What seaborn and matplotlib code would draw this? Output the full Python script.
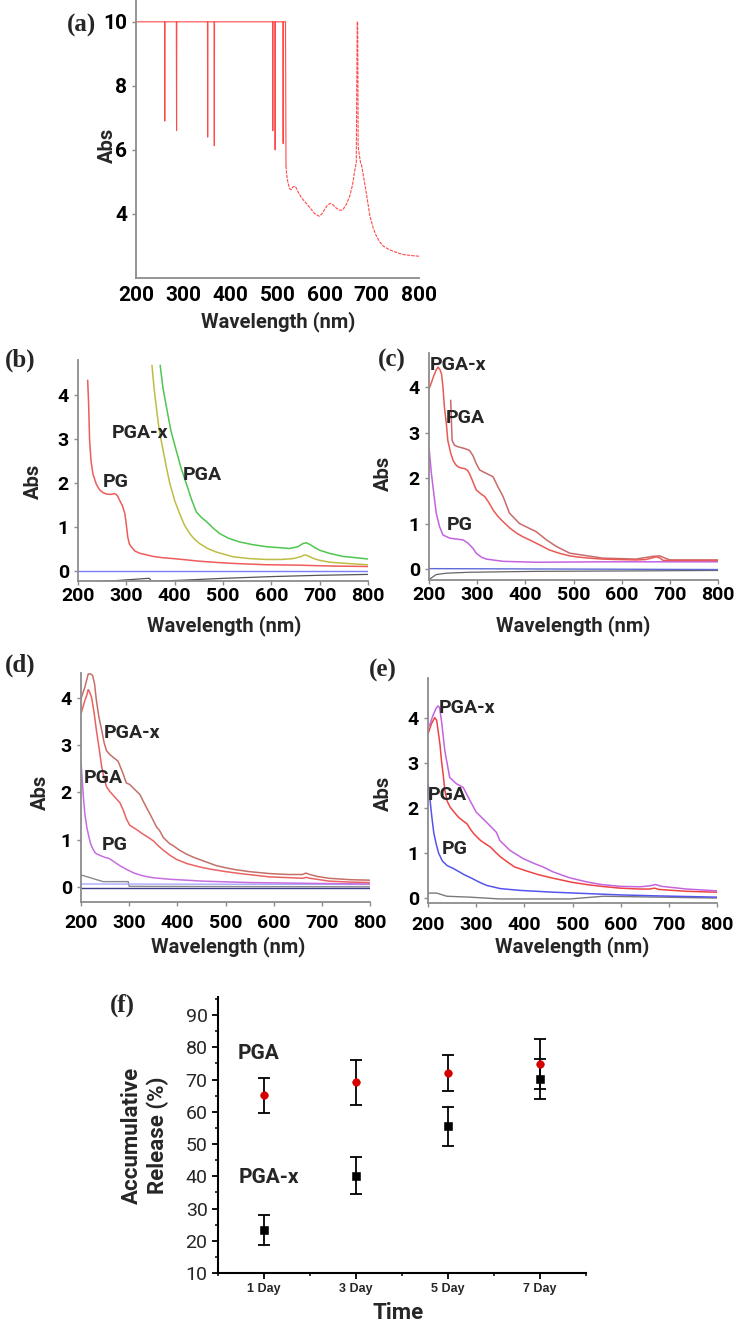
import matplotlib
matplotlib.use("Agg")
from matplotlib import pyplot as plt
from matplotlib.ticker import MultipleLocator
import seaborn as sns

sns.set_theme(style="ticks")
plt.rcParams["font.family"] = ["Roboto", "DejaVu Sans"]

W, H = 735, 1323

# ---- (a) spectrum
a_wl = [200, 260.5, 261, 261.5, 285.5, 286, 286.5, 351.5, 352, 352.5, 365.5, 366, 366.5,
        489.5, 490, 490.5, 494.5, 495, 495.5, 511.5, 512, 512.5, 517, 518]
a_abs = [10, 10, 6.9, 10, 10, 6.6, 10, 10, 6.4, 10, 10, 6.13, 10,
         10, 6.6, 10, 10, 6.0, 10, 10, 6.2, 10, 10, 5.5]
a_tail_wl = [518, 519, 521, 525, 529, 533, 538, 545, 551, 560, 569, 578, 588, 594, 600, 606, 612,
             618, 624, 631, 638, 646, 653, 659, 664, 667, 669, 670, 671, 673, 676, 678, 682, 686,
             691, 696, 703, 710, 717, 724, 735, 745, 756, 767, 785, 800]
a_tail_abs = [5.5, 5.3, 5.07, 4.8, 4.76, 4.85, 4.86, 4.65, 4.5, 4.35, 4.19, 4.02, 3.93, 4.0, 4.14,
              4.28, 4.33, 4.28, 4.19, 4.12, 4.12, 4.3, 4.55, 4.9, 5.38, 5.6, 10, 10, 6.1, 5.9, 5.6,
              5.55, 5.2, 4.86, 4.4, 3.93, 3.55, 3.3, 3.12, 3.0, 2.9, 2.84, 2.78, 2.73, 2.7, 2.68]

# ---- (b)
b_pg_wl = [220, 222, 224, 227, 231, 238, 245, 252, 259, 267, 276, 281, 286, 292, 297, 300, 303, 306,
           310, 318, 328, 340, 355, 375, 397, 425, 452, 490, 521, 555, 590, 625, 659, 690, 728, 765, 800]
b_pg_abs = [4.34, 3.8, 2.97, 2.5, 2.2, 1.97, 1.84, 1.78, 1.75, 1.74, 1.76, 1.72, 1.61, 1.48, 1.3, 1.05,
            0.77, 0.62, 0.55, 0.45, 0.4, 0.37, 0.33, 0.3, 0.28, 0.25, 0.22, 0.19, 0.17, 0.155, 0.14,
            0.135, 0.13, 0.12, 0.11, 0.105, 0.1]
b_pgax_wl = [353, 357, 362, 368, 376, 383, 390, 400, 410, 420, 431, 441, 452, 468, 486, 505, 521, 555,
             590, 620, 645, 660, 668, 672, 678, 688, 700, 720, 741, 770, 800]
b_pgax_abs = [4.68, 4.2, 3.73, 3.2, 2.75, 2.35, 1.99, 1.6, 1.31, 1.05, 0.85, 0.72, 0.62, 0.51, 0.43,
              0.37, 0.32, 0.28, 0.26, 0.26, 0.28, 0.32, 0.36, 0.36, 0.33, 0.28, 0.24, 0.2, 0.18, 0.16, 0.14]
b_pga_wl = [370, 376, 383, 392, 403, 413, 424, 435, 445, 455, 466, 480, 493, 512, 534, 560, 590, 615,
            638, 655, 665, 672, 680, 690, 700, 720, 748, 775, 800]
b_pga_abs = [4.68, 4.15, 3.73, 3.2, 2.75, 2.35, 1.99, 1.62, 1.34, 1.22, 1.12, 0.97, 0.85, 0.74, 0.66,
             0.6, 0.55, 0.53, 0.51, 0.55, 0.62, 0.64, 0.6, 0.53, 0.47, 0.4, 0.33, 0.3, 0.27]
b_blue_wl = [200, 800]
b_blue_abs = [0.0, 0.0]
b_gray_wl = [225, 280, 345, 348, 352, 420, 500, 600, 700, 800]
b_gray_abs = [-0.25, -0.22, -0.17, -0.17, -0.24, -0.21, -0.17, -0.13, -0.1, -0.08]

# ---- (c)
c_pgax_wl = [200, 205, 210, 215, 219, 223, 226, 229, 232, 236, 239, 245, 250, 255, 260, 267, 274, 280,
             284, 290, 298, 307, 316, 325, 333, 343, 354, 368, 382, 395, 409, 430, 450, 470, 492, 513,
             534, 560, 590, 630, 650, 665, 672, 680, 686, 700, 750, 800]
c_pgax_abs = [3.96, 4.1, 4.25, 4.38, 4.44, 4.38, 4.29, 4.0, 3.56, 3.2, 2.83, 2.55, 2.39, 2.3, 2.25,
              2.22, 2.21, 2.17, 2.1, 1.95, 1.74, 1.66, 1.59, 1.45, 1.3, 1.16, 1.04, 0.9, 0.79, 0.71,
              0.64, 0.53, 0.42, 0.35, 0.29, 0.26, 0.24, 0.22, 0.21, 0.2, 0.21, 0.25, 0.27, 0.24, 0.19,
              0.19, 0.19, 0.19]
c_pga_wl = [245, 248, 253, 260, 274, 284, 291, 298, 305, 312, 333, 343, 354, 367, 388, 423, 444, 464,
            492, 561, 630, 665, 679, 700, 800]
c_pga_abs = [3.71, 2.83, 2.72, 2.69, 2.65, 2.61, 2.5, 2.32, 2.18, 2.14, 2.03, 1.81, 1.59, 1.23, 1.0,
             0.82, 0.64, 0.5, 0.35, 0.24, 0.22, 0.28, 0.29, 0.2, 0.2]
c_pg_wl = [200, 205, 210, 215, 222, 229, 243, 257, 271, 281, 291, 298, 309, 319, 354, 423, 561, 800]
c_pg_abs = [2.67, 2.1, 1.66, 1.23, 0.93, 0.75, 0.68, 0.66, 0.64, 0.57, 0.46, 0.35, 0.26, 0.22, 0.17,
            0.15, 0.16, 0.16]
c_blue_wl = [200, 800]
c_blue_abs = [0.01, -0.01]
c_gray_wl = [200, 215, 236, 284, 423, 630, 800]
c_gray_abs = [-0.23, -0.12, -0.09, -0.07, -0.05, -0.04, -0.03]

# ---- (d)
d_pgax_wl = [200, 204, 208, 212, 215, 220, 224, 228, 232, 237, 243, 248, 253, 260, 267, 277, 288, 294,
             301, 310, 322, 336, 343, 357, 363, 371, 384, 391, 405, 419, 432, 453, 480, 501, 522, 550,
             591, 630, 660, 667, 675, 690, 715, 760, 800]
d_pgax_abs = [3.98, 4.1, 4.22, 4.38, 4.5, 4.5, 4.47, 4.3, 3.94, 3.6, 3.31, 3.05, 2.88, 2.8, 2.74, 2.66,
              2.38, 2.2, 2.17, 2.08, 1.96, 1.68, 1.55, 1.27, 1.2, 1.05, 0.92, 0.88, 0.78, 0.7, 0.64,
              0.56, 0.46, 0.41, 0.37, 0.33, 0.29, 0.27, 0.27, 0.3, 0.27, 0.23, 0.19, 0.16, 0.15]
d_pga_wl = [200, 204, 208, 212, 215, 218, 222, 227, 232, 238, 243, 248, 253, 260, 267, 274, 281, 288,
            294, 301, 315, 329, 340, 350, 360, 370, 384, 398, 420, 446, 470, 501, 530, 591, 640, 660,
            668, 676, 715, 760, 800]
d_pga_abs = [3.66, 3.8, 3.94, 4.05, 4.17, 4.12, 4.0, 3.7, 3.31, 2.9, 2.54, 2.3, 2.12, 2.02, 1.94, 1.86,
             1.78, 1.62, 1.45, 1.31, 1.22, 1.12, 1.05, 0.98, 0.88, 0.79, 0.68, 0.59, 0.5, 0.43, 0.38,
             0.33, 0.29, 0.22, 0.2, 0.19, 0.21, 0.19, 0.13, 0.11, 0.1]
d_pg_wl = [200, 203, 205, 208, 212, 216, 220, 225, 230, 240, 250, 258, 267, 280, 294, 310, 329, 350,
           384, 453, 550, 700, 800]
d_pg_abs = [2.64, 2.2, 1.9, 1.55, 1.27, 1.08, 0.92, 0.8, 0.72, 0.67, 0.63, 0.61, 0.55, 0.46, 0.38, 0.3,
            0.24, 0.2, 0.17, 0.13, 0.1, 0.08, 0.07]
d_gray_wl = [200, 246, 298, 300, 800]
d_gray_abs = [0.26, 0.12, 0.12, 0.02, 0.01]
d_lblue_wl = [200, 800]
d_lblue_abs = [0.07, 0.06]
d_navy_wl = [200, 800]
d_navy_abs = [-0.01, -0.01]

# ---- (e)
e_pgax_wl = [203, 210, 217, 221, 224, 228, 235, 245, 259, 273, 287, 300, 321, 342, 349, 370, 397, 420,
             439, 460, 494, 529, 560, 599, 640, 660, 672, 685, 737, 800]
e_pgax_abs = [3.83, 4.05, 4.22, 4.27, 4.23, 3.94, 3.27, 2.68, 2.54, 2.46, 2.17, 1.91, 1.69, 1.46, 1.28,
              1.06, 0.88, 0.77, 0.69, 0.58, 0.45, 0.36, 0.3, 0.26, 0.25, 0.27, 0.3, 0.26, 0.2, 0.16]
e_pga_wl = [200, 207, 214, 218, 221, 225, 228, 232, 235, 240, 246, 255, 263, 272, 281, 288, 295, 309,
            320, 330, 340, 351, 365, 380, 405, 429, 460, 499, 529, 560, 599, 640, 660, 670, 680, 737, 800]
e_pga_abs = [3.65, 3.87, 4.01, 3.95, 3.72, 3.4, 3.05, 2.7, 2.39, 2.15, 2.02, 1.9, 1.8, 1.72, 1.65, 1.53,
             1.43, 1.28, 1.2, 1.13, 1.02, 0.91, 0.8, 0.69, 0.6, 0.52, 0.44, 0.35, 0.3, 0.26, 0.22, 0.2,
             0.2, 0.22, 0.19, 0.15, 0.13]
e_pg_wl = [200, 204, 208, 212, 217, 222, 230, 240, 252, 262, 275, 289, 305, 322, 350, 391, 460, 529,
           599, 668, 800]
e_pg_abs = [2.55, 2.2, 1.8, 1.45, 1.2, 1.0, 0.82, 0.72, 0.66, 0.6, 0.52, 0.45, 0.36, 0.28, 0.21, 0.17,
            0.13, 0.1, 0.07, 0.05, 0.02]
e_gray_wl = [200, 218, 239, 287, 349, 495, 564, 800]
e_gray_abs = [0.11, 0.11, 0.04, 0.02, -0.02, -0.02, 0.04, 0.0]

# ---- (f) release
days = [1, 3, 5, 7]
day_labels = ["1 Day", "3 Day", "5 Day", "7 Day"]
pga_rel = [65.1, 69.1, 72.0, 74.8]
pga_err = [5.5, 7.0, 5.6, 7.7]
pgax_rel = [23.3, 40.2, 55.5, 70.2]
pgax_err = [4.6, 5.7, 6.0, 6.1]

fig = plt.figure(figsize=(W / 100, H / 100), dpi=100)


def px_axes(l, t, r, b):
    return fig.add_axes([l / W, 1 - b / H, (r - l) / W, (b - t) / H])


def ftext(x, y, s, **kw):
    fig.text(x / W, 1 - y / H, s, ha="center", va="center", **kw)


def line(ax, x, y, color, lw=1.1, **kw):
    sns.lineplot(x=x, y=y, ax=ax, color=color, lw=lw, sort=False, estimator=None, **kw)


def style_spec(ax, ylim, pad):
    ax.set_xlim(200, 800)
    ax.set_ylim(*ylim)
    ax.xaxis.set_major_locator(MultipleLocator(100))
    ax.yaxis.set_major_locator(MultipleLocator(1))
    sns.despine(ax=ax)
    for s in ["left", "bottom"]:
        ax.spines[s].set_color("#8c8c8c")
        ax.spines[s].set_linewidth(1.3)
    ax.tick_params(axis="both", colors="#8c8c8c", length=3, width=1, labelcolor="black",
                   labelsize=14)
    ax.tick_params(axis="x", pad=pad)
    for t in ax.get_xticklabels() + ax.get_yticklabels():
        t.set_fontweight("bold")
    ax.set_xlabel("")
    ax.set_ylabel("")
    ax.patch.set_alpha(0)


def panel_label(x, y, s):
    ftext(x, y, s, fontsize=18, fontweight="bold", family="Liberation Serif")


bold = dict(fontweight="bold", fontsize=14.5)
lab = dict(fontweight="bold", fontsize=14, ha="center", va="center")

# (a)
ax = px_axes(136, 1, 419, 278)
line(ax, a_wl, a_abs, "#ff4a4a", lw=0.8)
line(ax, a_tail_wl, a_tail_abs, "#ff4a4a", lw=0.8, linestyle=(0, (3, 1)))
style_spec(ax, (2.0, 10.65), 6)
ax.set_yticks([4, 6, 8, 10])
ax.tick_params(axis="x", length=0)
ax.tick_params(labelsize=15)
panel_label(82, 25, "(a)")
ftext(107, 145, "Abs", rotation=90, **bold)
ftext(278, 322, "Wavelength (nm)", **bold)

# (b)
ax = px_axes(78, 360, 368, 581)
line(ax, b_gray_wl, b_gray_abs, "#555555", lw=0.9)
line(ax, b_blue_wl, b_blue_abs, "#7b7bff", lw=1.0)
line(ax, b_pg_wl, b_pg_abs, "#ee5c5c")
line(ax, b_pgax_wl, b_pgax_abs, "#bdbd45")
line(ax, b_pga_wl, b_pga_abs, "#4fc64f")
style_spec(ax, (-0.23, 4.8), 1)
ax.text(279, 2.02, "PG", **lab)
ax.text(328, 3.14, "PGA-x", **lab)
ax.text(457, 2.18, "PGA", **lab)
panel_label(20, 360, "(b)")
ftext(33, 481, "Abs", rotation=90, **bold)
ftext(224, 626, "Wavelength (nm)", **bold)

# (c)
ax = px_axes(429, 353, 718, 580)
line(ax, c_gray_wl, c_gray_abs, "#666666", lw=0.9)
line(ax, c_blue_wl, c_blue_abs, "#5d6bd8", lw=1.0)
line(ax, c_pg_wl, c_pg_abs, "#c462e0")
line(ax, c_pga_wl, c_pga_abs, "#c86a6a")
line(ax, c_pgax_wl, c_pgax_abs, "#ea5a55")
style_spec(ax, (-0.24, 4.75), 1)
ax.text(260, 4.48, "PGA-x", **lab)
ax.text(275, 3.32, "PGA", **lab)
ax.text(264, 0.97, "PG", **lab)
panel_label(392, 360, "(c)")
ftext(383, 473, "Abs", rotation=90, **bold)
ftext(573, 626, "Wavelength (nm)", **bold)

# (d)
ax = px_axes(81, 673, 370, 902)
line(ax, d_gray_wl, d_gray_abs, "#8a8a8a", lw=1.0)
line(ax, d_lblue_wl, d_lblue_abs, "#a9a9ff", lw=1.0)
line(ax, d_navy_wl, d_navy_abs, "#3d3d8f", lw=1.0)
line(ax, d_pg_wl, d_pg_abs, "#c66ee0")
line(ax, d_pga_wl, d_pga_abs, "#ea6262")
line(ax, d_pgax_wl, d_pgax_abs, "#c47068")
style_spec(ax, (-0.31, 4.52), 6)
ax.text(306, 3.26, "PGA-x", **lab)
ax.text(246, 2.3, "PGA", **lab)
ax.text(271, 0.89, "PG", **lab)
panel_label(20, 665, "(d)")
ftext(40, 792, "Abs", rotation=90, **bold)
ftext(228, 947, "Wavelength (nm)", **bold)

# (e)
ax = px_axes(428, 678, 717, 903)
line(ax, e_gray_wl, e_gray_abs, "#7a7a7a", lw=1.0)
line(ax, e_pg_wl, e_pg_abs, "#5555ee")
line(ax, e_pga_wl, e_pga_abs, "#ee4444")
line(ax, e_pgax_wl, e_pgax_abs, "#c464e0")
style_spec(ax, (-0.11, 4.89), 6)
ax.text(281, 4.22, "PGA-x", **lab)
ax.text(241, 2.29, "PGA", **lab)
ax.text(256, 1.09, "PG", **lab)
panel_label(383, 670, "(e)")
ftext(383, 793, "Abs", rotation=90, **bold)
ftext(572, 947, "Wavelength (nm)", **bold)

# (f)
ax = px_axes(218, 997, 586, 1273)
ax.errorbar(days, pgax_rel, yerr=pgax_err, fmt="none", ecolor="black", elinewidth=1.3,
            capsize=4, capthick=1.3)
ax.errorbar(days, pga_rel, yerr=pga_err, fmt="none", ecolor="black", elinewidth=1.3,
            capsize=4, capthick=1.3)
sns.scatterplot(x=days, y=pgax_rel, ax=ax, marker="s", color="black", s=28, edgecolor="black",
                zorder=3)
sns.scatterplot(x=days, y=pga_rel, ax=ax, marker="o", color="#d40000", s=30, edgecolor="#d40000",
                zorder=4)
ax.set_xlim(0, 8)
ax.set_ylim(10, 95.6)
ax.set_xticks(days)
ax.set_xticklabels(day_labels, fontsize=9, fontweight="bold", family="Liberation Sans")
ax.xaxis.set_minor_locator(MultipleLocator(2))
ax.yaxis.set_major_locator(MultipleLocator(10))
ax.yaxis.set_minor_locator(MultipleLocator(5))
ax.tick_params(axis="y", labelsize=14)
ax.tick_params(which="major", length=4, width=1.3, color="black")
ax.tick_params(which="minor", length=2.5, width=1.1, color="black")
sns.despine(ax=ax)
for s in ["left", "bottom"]:
    ax.spines[s].set_color("black")
    ax.spines[s].set_linewidth(1.5)
ax.patch.set_alpha(0)
ax.text(0.89, 78.2, "PGA", fontweight="bold", fontsize=15, ha="center", va="center")
ax.text(1.11, 39.5, "PGA-x", fontweight="bold", fontsize=15, ha="center", va="center")
panel_label(122, 1005, "(f)")
ftext(145, 1135, "Accumulative\nRelease (%)", rotation=90, linespacing=1.2,
      fontweight="bold", fontsize=16)
ftext(398, 1313, "Time", fontweight="bold", fontsize=16)

fig.savefig("out.png", dpi=100, facecolor="white")
